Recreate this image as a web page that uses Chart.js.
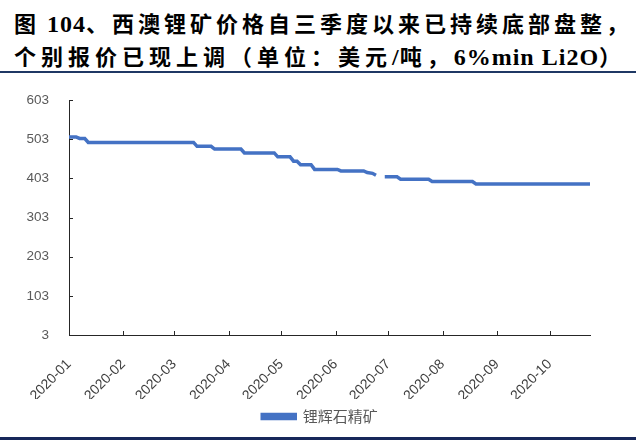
<!DOCTYPE html>
<html><head><meta charset="utf-8">
<script src="https://cdn.jsdelivr.net/npm/chart.js@4"></script>
<style>
html,body{margin:0;padding:0;background:#fff;width:640px;height:442px;overflow:hidden;position:relative}
.t{position:absolute;left:14px;font-family:"Noto Sans CJK SC",sans-serif;font-weight:bold;font-size:22px;color:#000;white-space:nowrap;line-height:1}
.t .l{font-family:"Liberation Serif",serif;font-size:24px;letter-spacing:1px}
#t1{top:11px;letter-spacing:4px}
#t2{top:44px;letter-spacing:5px}
.rule{position:absolute;left:0;width:636px;background:#1f3864}
#r1{top:71px;height:2px}
#r2{top:437px;height:3px;background:#17275a}
#wrap{position:absolute;left:0;top:80px;width:640px;height:355px}
</style></head>
<body>
<div class="t" id="t1">图<span class="l"> 104</span>、西澳锂矿价格自三季度以来已持续底部盘整，</div>
<div class="t" id="t2">个别报价已现上调（单位：美元<span class="l">/</span>吨，<span class="l">6%min Li2O</span>）</div>
<div class="rule" id="r1"></div>
<div class="rule" id="r2"></div>
<div id="wrap"><canvas id="c"></canvas></div>
<script>
const seriesName = "锂辉石精矿";
const priceDates = ["2020-01-01","2020-01-05","2020-01-07","2020-01-10","2020-01-12","2020-03-12","2020-03-14","2020-03-22","2020-03-24","2020-04-08","2020-04-10","2020-04-27","2020-04-29","2020-05-06","2020-05-08","2020-05-10","2020-05-12","2020-05-18","2020-05-20","2020-06-02","2020-06-04","2020-06-17","2020-06-19","2020-06-22","2020-06-24","2020-06-27","2020-06-29","2020-07-06","2020-07-08","2020-07-24","2020-07-26","2020-08-18","2020-08-20","2020-10-24"];
const priceValues = [509,509,505,505,495,495,485,485,478,478,468,468,458,458,447,447,438,438,426,426,422,422,418,416,411,null,407,407,401,401,395,395,389,389];
const xTickLabels = ["2020-01","2020-02","2020-03","2020-04","2020-05","2020-06","2020-07","2020-08","2020-09","2020-10"];
const yTickValues = [3,103,203,303,403,503,603];

function dayOf(s){const p=s.split('-').map(Number);return (Date.UTC(p[0],p[1]-1,p[2]||1)-Date.UTC(2020,0,1))/86400000;}
const points = priceDates.map((d,i)=>({x:dayOf(d),y:priceValues[i]}));

const innerTicks = {
  id:'innerTicks',
  afterDraw(chart){
    const {ctx, scales:{x,y}} = chart;
    ctx.save(); ctx.strokeStyle='#262626'; ctx.lineWidth=1;
    x.ticks.forEach(t=>{const px=Math.round(x.getPixelForValue(t.value))+0.5;ctx.beginPath();ctx.moveTo(px,x.top);ctx.lineTo(px,x.top-4);ctx.stroke();});
    y.ticks.forEach(t=>{const py=Math.round(y.getPixelForValue(t.value))+0.5;ctx.beginPath();ctx.moveTo(y.right,py);ctx.lineTo(y.right+4,py);ctx.stroke();});
    ctx.restore();
  }
};

new Chart(document.getElementById('c'),{
  type:'line',
  data:{datasets:[{label:seriesName,data:points,borderColor:'#4472C4',backgroundColor:'#4472C4',borderWidth:3.5,pointRadius:0,tension:0,spanGaps:false}]},
  options:{
    responsive:true,maintainAspectRatio:false,animation:false,
    layout:{padding:{left:0,right:0,top:15,bottom:1}},
    plugins:{
      legend:{position:'bottom',labels:{boxWidth:33,boxHeight:4,padding:10,color:'#595959',font:{family:'Noto Sans CJK SC',size:15}}},
      tooltip:{enabled:false}
    },
    scales:{
      x:{type:'linear',min:0,max:dayOf(priceDates[priceDates.length-1]),
        afterBuildTicks:s=>{s.ticks=xTickLabels.map(l=>({value:dayOf(l+'-01')}));},
        ticks:{autoSkip:false,minRotation:45,maxRotation:45,padding:13,color:'#404040',font:{family:'Liberation Sans',size:14},callback:(v,i)=>xTickLabels[i]},
        grid:{display:false},border:{display:true,color:'#262626',width:1},
        afterFit:s=>{s.height=64;}
      },
      y:{min:3,max:603,
        afterBuildTicks:s=>{s.ticks=yTickValues.map(v=>({value:v}));},
        ticks:{padding:12,color:'#595959',font:{family:'Liberation Sans',size:13.5}},
        grid:{display:false},border:{display:true,color:'#262626',width:1},
        afterFit:s=>{s.width=69;}
      },
      yR:{position:'right',display:true,
        ticks:{display:false},grid:{display:false},border:{display:false},
        afterFit:s=>{s.width=50;}
      }
    }
  },
  plugins:[innerTicks]
});
</script>
</body></html>
